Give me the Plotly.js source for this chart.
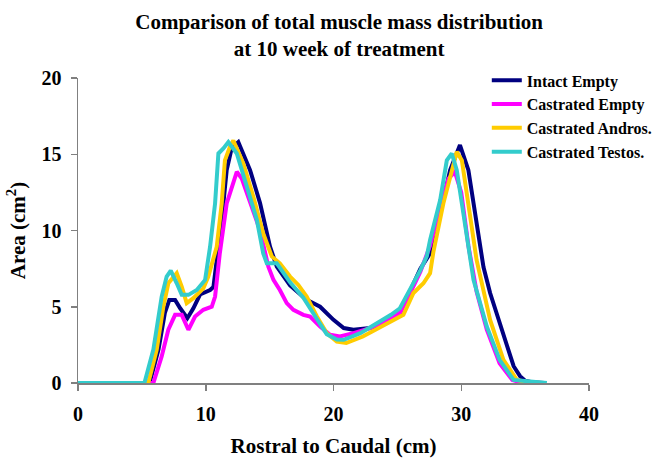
<!DOCTYPE html>
<html>
<head>
<meta charset="utf-8">
<script src="https://cdn.plot.ly/plotly-3.0.1.min.js"></script>
<style>html,body{margin:0;padding:0;background:#fff;}#chart{width:665px;height:458px;}</style>
</head>
<body>
<div id="chart"></div>
<script>
// Series names
const seriesNames = ["Intact Empty", "Castrated Empty", "Castrated Andros.", "Castrated Testos."];

// Intact Empty
const intactX = [0, 5.6, 6.3, 6.8, 7.15, 7.6, 8.0, 8.56, 9.03, 9.55, 10.34, 10.6, 11.25, 11.64, 12.03, 12.55, 13.47, 14.25, 15.03, 15.56, 16.6, 17.9, 18.95, 20.0, 20.8, 21.56, 22.87, 24.2, 25.2, 26.0, 26.8, 27.56, 28.35, 29.13, 29.9, 30.56, 31.2, 31.74, 32.26, 32.6, 33.3, 33.57, 34.1, 34.6, 35.0, 35.5, 36.5];
const intactY = [0, 0, 2.2, 4.6, 5.45, 5.45, 4.9, 4.25, 4.9, 5.8, 6.1, 6.3, 10.7, 13.96, 15.4, 15.8, 13.96, 11.8, 8.94, 7.63, 6.4, 5.45, 5.0, 4.14, 3.6, 3.5, 3.6, 4.03, 4.58, 6.1, 7.5, 8.5, 11.1, 13.96, 15.6, 13.96, 10.7, 7.6, 5.9, 5.0, 3.05, 2.3, 1.1, 0.45, 0.15, 0.05, 0];

// Castrated Empty
const castEmptyX = [0, 5.9, 6.55, 7.07, 7.6, 8.12, 8.64, 9.16, 9.81, 10.47, 10.73, 11.1, 11.64, 12.03, 12.43, 12.82, 13.47, 14.25, 14.9, 15.3, 15.8, 16.34, 16.86, 17.64, 18.17, 18.95, 19.73, 20.5, 21.56, 22.87, 24.43, 25.2, 26.0, 26.8, 27.56, 28.35, 29.0, 29.5, 30.0, 30.56, 31.2, 32.0, 33.0, 34.0, 34.6, 35.5];
const castEmptyY = [0, 0, 1.74, 3.49, 4.47, 4.47, 3.49, 4.36, 4.8, 5.0, 5.67, 8.5, 11.78, 12.87, 13.85, 13.4, 11.78, 10.0, 7.63, 6.76, 6.1, 5.24, 4.8, 4.47, 4.36, 3.7, 3.16, 3.05, 3.27, 3.6, 4.2, 4.6, 5.9, 7.3, 9.0, 11.5, 13.4, 13.85, 12.5, 9.0, 6.0, 3.5, 1.3, 0.2, 0.05, 0];

// Castrated Andros.
const androsX = [0, 5.5, 6.16, 6.68, 7.07, 7.73, 8.12, 8.51, 9.03, 9.81, 10.2, 10.86, 11.25, 11.5, 11.9, 12.16, 12.94, 13.73, 14.5, 15.17, 15.8, 16.6, 17.25, 17.9, 18.7, 19.47, 20.26, 21.0, 22.3, 23.5, 24.43, 25.2, 25.47, 26.26, 27.04, 27.56, 27.82, 28.6, 29.4, 29.65, 30.05, 30.56, 31.2, 32.26, 33.3, 34.35, 35.5];
const androsY = [0, 0, 2.18, 5.0, 6.54, 7.2, 6.32, 5.24, 5.56, 6.2, 6.98, 8.94, 11.78, 14.6, 15.5, 15.9, 14.4, 12.2, 9.8, 8.3, 7.85, 6.98, 6.43, 5.67, 4.36, 3.27, 2.72, 2.62, 3.05, 3.6, 4.03, 4.36, 4.47, 5.9, 6.54, 7.2, 8.6, 11.78, 14.4, 15.16, 14.6, 11.78, 8.07, 4.14, 1.52, 0.2, 0];

// Castrated Testos.
const testosX = [0, 5.2, 5.9, 6.55, 6.94, 7.26, 7.73, 8.12, 8.64, 9.3, 9.95, 10.34, 10.73, 10.99, 11.38, 11.77, 12.43, 13.2, 14.0, 14.5, 14.78, 15.3, 15.56, 16.6, 17.64, 18.7, 19.47, 20.26, 20.8, 22.1, 23.4, 24.5, 25.2, 26.0, 26.8, 27.3, 27.56, 28.35, 28.87, 29.26, 29.65, 30.17, 30.96, 32.0, 33.0, 34.1, 36.7];
const testosY = [0, 0, 2.2, 5.67, 6.98, 7.37, 6.54, 5.78, 5.78, 6.1, 6.76, 8.94, 11.78, 15.05, 15.38, 15.8, 15.05, 12.87, 10.7, 8.5, 7.85, 7.85, 7.85, 6.6, 5.6, 4.2, 3.2, 2.85, 2.83, 3.27, 3.9, 4.47, 4.9, 6.1, 7.4, 8.3, 9.38, 12.0, 14.6, 15.05, 13.96, 11.1, 6.76, 3.7, 1.52, 0.2, 0];

const xTicks = [0, 10, 20, 30, 40];
const yTicks = [0, 5, 10, 15, 20];

const colors = ["#000080", "#FF00FF", "#FFCC00", "#33CCCC"];
const xs = [intactX, castEmptyX, androsX, testosX];
const ys = [intactY, castEmptyY, androsY, testosY];

const traces = seriesNames.map((n, i) => ({
  type: "scatter", mode: "lines", name: n, x: xs[i], y: ys[i],
  line: {color: colors[i], width: 4}
}));

const fontFam = "Liberation Serif, Times New Roman, serif";
const layout = {
  width: 665, height: 458,
  margin: {l: 78, r: 76, t: 78, b: 75, autoexpand: false},
  paper_bgcolor: "#fff", plot_bgcolor: "#fff",
  font: {family: fontFam, size: 20, color: "#000", weight: "bold"},
  title: {text: "Comparison of total muscle mass distribution<br>at 10 week of treatment",
          font: {family: fontFam, size: 21, color: "#000", weight: "bold"},
          x: 0.51, xanchor: "center", y: 0.937, yanchor: "top"},
  xaxis: {range: [0, 40], tickvals: xTicks, ticktext: xTicks.map(String),
          showgrid: false, zeroline: false, showline: true, linecolor: "#808080", linewidth: 1.5,
          ticks: "outside", ticklen: 6, tickcolor: "#808080", tickwidth: 1.5, ticklabelstandoff: 6,
          tickfont: {family: fontFam, size: 20, weight: "bold"},
          title: {text: "Rostral to Caudal (cm)", font: {family: fontFam, size: 21, weight: "bold"}, standoff: 17}},
  yaxis: {range: [0, 20], tickvals: yTicks, ticktext: yTicks.map(String),
          showgrid: false, zeroline: false, showline: true, linecolor: "#808080", linewidth: 1.5,
          ticks: "outside", ticklen: 6, tickcolor: "#808080", tickwidth: 1.5, ticklabelstandoff: 5,
          tickfont: {family: fontFam, size: 20, weight: "bold"},
          title: {text: "Area (cm<sup>2</sup>)", font: {family: fontFam, size: 21, weight: "bold"}, standoff: 10}},
  legend: {x: 0.80, xanchor: "left", y: 1.048, yanchor: "top",
           font: {family: fontFam, size: 16, weight: "bold"}, bgcolor: "rgba(0,0,0,0)"},
  showlegend: true
};

Plotly.newPlot("chart", traces, layout, {displayModeBar: false, staticPlot: true});
</script>
</body>
</html>
